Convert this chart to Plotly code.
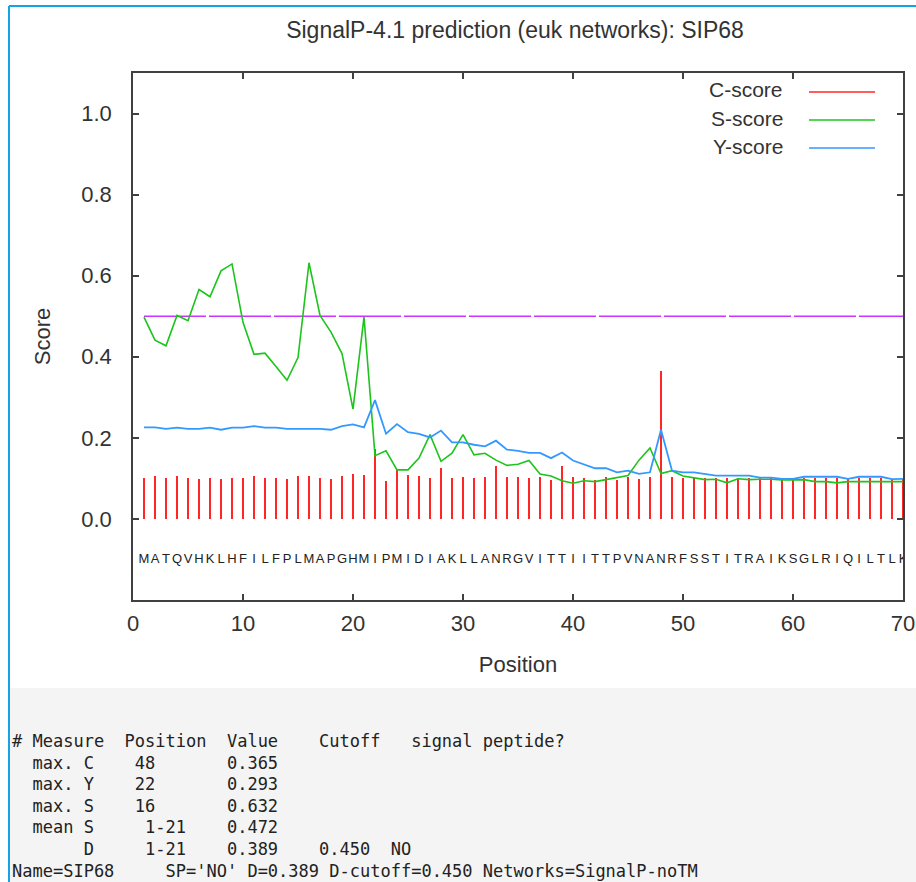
import plotly.graph_objects as go

# ---------------- data ----------------
positions = list(range(1, 71))
sequence = list("MATQVHKLHFILFPLMAPGHMIPMIDIAKLLANRGVITTIITTPVNANRFSSTITRAIKSGLRIQILTLK")

c_score = [0.102, 0.105, 0.101, 0.105, 0.101, 0.098, 0.101, 0.098, 0.101, 0.101,
           0.105, 0.101, 0.101, 0.098, 0.105, 0.105, 0.101, 0.098, 0.105, 0.112,
           0.108, 0.172, 0.094, 0.120, 0.108, 0.105, 0.101, 0.125, 0.101, 0.104,
           0.101, 0.104, 0.130, 0.104, 0.104, 0.101, 0.104, 0.097, 0.130, 0.104,
           0.101, 0.097, 0.104, 0.097, 0.104, 0.098, 0.104, 0.365, 0.104, 0.101,
           0.101, 0.100, 0.100, 0.101, 0.100, 0.101, 0.100, 0.100, 0.098, 0.100,
           0.101, 0.101, 0.101, 0.100, 0.098, 0.101, 0.101, 0.101, 0.098, 0.100]

s_score = [0.498, 0.441, 0.427, 0.502, 0.489, 0.566, 0.548, 0.612, 0.629, 0.485,
           0.406, 0.409, 0.376, 0.342, 0.398, 0.632, 0.502, 0.461, 0.408, 0.271,
           0.498, 0.156, 0.168, 0.121, 0.121, 0.150, 0.208, 0.142, 0.162, 0.208,
           0.158, 0.162, 0.145, 0.132, 0.135, 0.144, 0.111, 0.106, 0.094, 0.088,
           0.094, 0.092, 0.097, 0.102, 0.107, 0.145, 0.175, 0.112, 0.119, 0.106,
           0.102, 0.097, 0.098, 0.089, 0.099, 0.097, 0.098, 0.098, 0.096, 0.097,
           0.097, 0.092, 0.092, 0.089, 0.092, 0.092, 0.092, 0.092, 0.092, 0.092]

y_score = [0.226, 0.226, 0.222, 0.225, 0.222, 0.222, 0.225, 0.220, 0.225, 0.225,
           0.229, 0.225, 0.225, 0.222, 0.222, 0.222, 0.222, 0.220, 0.229, 0.233,
           0.226, 0.293, 0.210, 0.234, 0.214, 0.210, 0.201, 0.218, 0.189, 0.189,
           0.183, 0.179, 0.193, 0.171, 0.168, 0.163, 0.163, 0.150, 0.164, 0.144,
           0.134, 0.125, 0.125, 0.115, 0.119, 0.111, 0.115, 0.220, 0.119, 0.115,
           0.115, 0.111, 0.107, 0.107, 0.107, 0.107, 0.102, 0.102, 0.099, 0.099,
           0.104, 0.104, 0.104, 0.104, 0.099, 0.104, 0.104, 0.104, 0.098, 0.099]

cutoff_x = [1, 70]
cutoff_y = [0.5, 0.5]

x_ticks = [0, 10, 20, 30, 40, 50, 60, 70]
y_ticks = [0.0, 0.2, 0.4, 0.6, 0.8, 1.0]

legend_names = ["C-score", "S-score", "Y-score"]

summary_lines = [
    "# Measure  Position  Value    Cutoff   signal peptide?",
    "  max. C    48       0.365",
    "  max. Y    22       0.293",
    "  max. S    16       0.632",
    "  mean S     1-21    0.472",
    "       D     1-21    0.389    0.450  NO",
    "Name=SIP68     SP='NO' D=0.389 D-cutoff=0.450 Networks=SignalP-noTM",
]

title_text = "SignalP-4.1 prediction (euk networks): SIP68"

# ---------------- styling ----------------
W, H = 916, 882
L, R, T, B = 133, 903, 73, 600
RED, GREEN, BLUE, MAGENTA = "#ff2626", "#1cc41c", "#3399ff", "#cc33ff"
AXIS = "#404040"
TXT = "#333333"
SANS = "Liberation Sans, Arial, sans-serif"
MONO = "DejaVu Sans Mono, Liberation Mono, monospace"
SEQ_LABEL_Y = -0.1
BORDER = "#14a4e6"
PANEL = "#f4f4f4"


def px(x):
    return (x - L) / (R - L)


def py(y):
    return (B - y) / (B - T)


fig = go.Figure()

fig.add_trace(go.Bar(x=positions, y=c_score, width=0.18,
                     marker=dict(color=RED, line=dict(width=0)), name="C-score"))
fig.add_trace(go.Scatter(x=cutoff_x, y=cutoff_y, mode="lines",
                         line=dict(color=MAGENTA, width=1.6, dash="62px,3px"), name="cutoff"))
fig.add_trace(go.Scatter(x=positions, y=s_score, mode="lines",
                         line=dict(color=GREEN, width=1.6), name="S-score"))
fig.add_trace(go.Scatter(x=positions, y=y_score, mode="lines",
                         line=dict(color=BLUE, width=1.8), name="Y-score"))
fig.add_trace(go.Scatter(x=positions, y=[SEQ_LABEL_Y] * len(positions), mode="text",
                         text=sequence, textfont=dict(family=SANS, size=13, color="#222222"),
                         textposition="middle center", name="sequence"))

shapes = []
# bottom grey panel
shapes.append(dict(type="rect", xref="paper", yref="paper", x0=px(10), x1=px(W + 2),
                   y0=py(688), y1=py(H), fillcolor=PANEL, line=dict(width=0), layer="below"))
# blue border
shapes.append(dict(type="line", xref="paper", yref="paper", x0=px(9), x1=px(9),
                   y0=py(6), y1=py(H), line=dict(color=BORDER, width=2)))
shapes.append(dict(type="line", xref="paper", yref="paper", x0=px(9), x1=px(W + 2),
                   y0=py(6), y1=py(6), line=dict(color=BORDER, width=2)))

annotations = []
# legend (text then sample line, gnuplot style)
leg_colors = [RED, GREEN, BLUE]
for i, (name, col) in enumerate(zip(legend_names, leg_colors)):
    yy = 90 + 28 * i
    annotations.append(dict(xref="paper", yref="paper", x=px(785), y=py(yy), text=name,
                            showarrow=False, xanchor="right", yanchor="middle",
                            font=dict(family=SANS, size=21, color=TXT)))
    shapes.append(dict(type="line", xref="paper", yref="paper", x0=px(809), x1=px(875),
                       y0=py(yy + 2), y1=py(yy + 2), line=dict(color=col, width=1.6)))

# summary text
for i, line in enumerate(summary_lines):
    annotations.append(dict(xref="paper", yref="paper", x=px(10), y=py(741 + 21.6 * i),
                            text=line.replace(" ", "&nbsp;"), showarrow=False,
                            xanchor="left", yanchor="middle",
                            font=dict(family=MONO, size=17, color="#222222")))

fig.update_layout(
    width=W, height=H, autosize=False,
    margin=dict(l=L, r=W - R, t=T, b=H - B, pad=0, autoexpand=False),
    paper_bgcolor="white", plot_bgcolor="white",
    showlegend=False, hovermode=False, bargap=0,
    title=dict(text=title_text, xref="container", x=515 / W, xanchor="center",
               yref="container", y=1 - 30 / H, yanchor="middle",
               font=dict(family=SANS, size=23, color=TXT)),
    font=dict(family=SANS, color=TXT),
    shapes=shapes, annotations=annotations,
)

fig.update_xaxes(range=[0, 70], tickvals=x_ticks, ticks="inside", ticklen=6, tickwidth=1.5,
                 tickcolor=AXIS, showline=True, linecolor=AXIS, linewidth=1.5, mirror="ticks",
                 showgrid=False, zeroline=False, tickfont=dict(size=22, color=TXT),
                 ticklabelstandoff=3, ticklabeloverflow="allow", automargin=False,
                 title=dict(text="Position", font=dict(size=22, color=TXT), standoff=21))
fig.update_yaxes(range=[-0.2, 1.1], tickvals=y_ticks, tickformat=".1f", ticks="inside",
                 ticklen=6, tickwidth=1.5, tickcolor=AXIS, showline=True, linecolor=AXIS,
                 linewidth=1.5, mirror="ticks", showgrid=False, zeroline=False,
                 tickfont=dict(size=22, color=TXT), ticklabelstandoff=15, automargin=False,
                 title=dict(text="Score", font=dict(size=22, color=TXT), standoff=25))

page_js = (
    "document.documentElement.style.overflow='hidden';"
    "document.body.style.margin='0';"
    "document.body.style.overflow='hidden';"
    "document.body.style.background="
    "'linear-gradient(" + BORDER + "," + BORDER + ") 0 5px/100% 2px no-repeat,"
    "linear-gradient(to bottom,#ffffff 688px," + PANEL + " 688px)';"
)

fig.write_html("out.html",
               config={"responsive": False, "displayModeBar": False},
               post_script=page_js)
